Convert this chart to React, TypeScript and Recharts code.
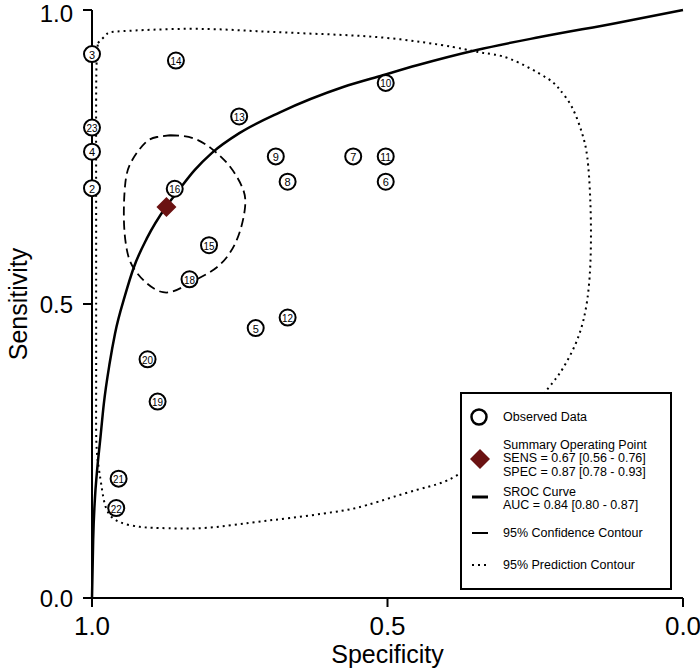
import React from 'react';
import { ComposedChart, XAxis, YAxis, Line, Scatter, Label } from 'recharts';

const FONT = '"Liberation Sans", Arial, sans-serif';

// Observed studies
const studyIds = [2, 3, 4, 5, 6, 7, 8, 9, 10, 11, 12, 13, 14, 15, 16, 18, 19, 20, 21, 22, 23];
const studySpec = [1.0, 1.0, 1.0, 0.723, 0.503, 0.558, 0.669, 0.689, 0.503, 0.503, 0.669, 0.751, 0.858, 0.802, 0.86, 0.835, 0.889, 0.906, 0.955, 0.959, 1.0];
const studySens = [0.697, 0.925, 0.759, 0.459, 0.708, 0.751, 0.708, 0.751, 0.876, 0.751, 0.477, 0.819, 0.914, 0.6, 0.696, 0.542, 0.334, 0.406, 0.203, 0.153, 0.8];

// Summary operating point
const summarySpec = [0.874];
const summarySens = [0.665];

// SROC curve
const srocSpec = [1.0, 0.998, 0.995, 0.992, 0.986, 0.98, 0.97, 0.961, 0.944, 0.929, 0.907, 0.875, 0.856, 0.826, 0.797, 0.75, 0.682, 0.575, 0.508, 0.45, 0.349, 0.242, 0.112, 0.0];
const srocSens = [0.0, 0.1, 0.17, 0.21, 0.27, 0.33, 0.4, 0.45, 0.515, 0.563, 0.612, 0.665, 0.69, 0.728, 0.757, 0.791, 0.826, 0.869, 0.889, 0.906, 0.932, 0.954, 0.978, 1.0];

// 95% confidence contour
const confSpec = [0.868, 0.829, 0.795, 0.766, 0.746, 0.741, 0.755, 0.788, 0.834, 0.88, 0.924, 0.941, 0.946, 0.944, 0.934, 0.91, 0.89, 0.868];
const confSens = [0.787, 0.782, 0.762, 0.733, 0.699, 0.665, 0.609, 0.563, 0.536, 0.52, 0.553, 0.592, 0.643, 0.702, 0.741, 0.774, 0.784, 0.787];

// 95% prediction contour
const predSpec = [0.99, 0.975, 0.948, 0.834, 0.721, 0.609, 0.496, 0.389, 0.338, 0.293, 0.23, 0.208, 0.188, 0.171, 0.162, 0.157, 0.156, 0.162, 0.179, 0.203, 0.22, 0.259, 0.31, 0.382, 0.45, 0.535, 0.592, 0.665, 0.733, 0.812, 0.885, 0.919, 0.953, 0.973, 0.981, 0.986, 0.992, 0.993, 0.993, 0.993, 0.993, 0.992, 0.99];
const predSens = [0.944, 0.959, 0.964, 0.968, 0.964, 0.959, 0.952, 0.937, 0.927, 0.917, 0.884, 0.864, 0.835, 0.791, 0.75, 0.68, 0.592, 0.507, 0.439, 0.391, 0.367, 0.32, 0.269, 0.209, 0.184, 0.158, 0.146, 0.136, 0.128, 0.119, 0.119, 0.121, 0.129, 0.146, 0.172, 0.204, 0.252, 0.337, 0.507, 0.677, 0.847, 0.915, 0.944];

const xTicks = [1.0, 0.5, 0.0];
const yTicks = [0.0, 0.5, 1.0];

const studies = studyIds.map((id, i) => ({ id, spec: studySpec[i], sens: studySens[i] }));
const summary = summarySpec.map((s, i) => ({ spec: s, sens: summarySens[i] }));
const sroc = srocSpec.map((s, i) => ({ spec: s, sens: srocSens[i] }));
const conf = confSpec.map((s, i) => ({ spec: s, sens: confSens[i] }));
const pred = predSpec.map((s, i) => ({ spec: s, sens: predSens[i] }));

const StudyShape = (props: any) => {
  const { cx, cy, payload } = props;
  const label = String(payload.id);
  const two = label.length > 1;
  return (
    <g>
      <circle cx={cx} cy={cy} r={8} fill="#fff" stroke="#000" strokeWidth={2} />
      <text
        x={cx}
        y={cy + 0.5}
        textAnchor="middle"
        dominantBaseline="central"
        fontSize={11}
        fontFamily={FONT}
        fill="#000"
        {...(two ? { textLength: 11, lengthAdjust: 'spacingAndGlyphs' } : {})}
      >
        {label}
      </text>
    </g>
  );
};

const DiamondShape = (props: any) => {
  const { cx, cy } = props;
  const h = 10;
  return <polygon points={`${cx},${cy - h} ${cx + h},${cy} ${cx},${cy + h} ${cx - h},${cy}`} fill="#6b1212" />;
};

const LegendBox = () => {
  const t = { fontSize: 12.5, fontFamily: FONT, fill: '#000' } as const;
  return (
    <svg width={212} height={198} style={{ position: 'absolute', left: 460, top: 392 }}>
      <rect x={1} y={1} width={210} height={196} fill="#fff" stroke="#000" strokeWidth={2} />
      <circle cx={19} cy={25} r={7.5} fill="#fff" stroke="#000" strokeWidth={2.5} />
      <text x={43} y={25} dominantBaseline="central" {...t}>Observed Data</text>
      <polygon points="20,57 30,67 20,77 10,67" fill="#6b1212" />
      <text x={43} y={52.5} dominantBaseline="central" {...t}>Summary Operating Point</text>
      <text x={43} y={66} dominantBaseline="central" {...t}>SENS = 0.67 [0.56 - 0.76]</text>
      <text x={43} y={79.5} dominantBaseline="central" {...t}>SPEC = 0.87 [0.78 - 0.93]</text>
      <line x1={12} x2={28} y1={105} y2={105} stroke="#000" strokeWidth={3} />
      <text x={43} y={99.5} dominantBaseline="central" {...t}>SROC Curve</text>
      <text x={43} y={113} dominantBaseline="central" {...t}>AUC = 0.84 [0.80 - 0.87]</text>
      <line x1={12} x2={28} y1={141} y2={141} stroke="#000" strokeWidth={2} />
      <text x={43} y={141} dominantBaseline="central" {...t}>95% Confidence Contour</text>
      <line x1={12} x2={30} y1={173} y2={173} stroke="#000" strokeWidth={2} strokeDasharray="2 4" />
      <text x={43} y={173} dominantBaseline="central" {...t}>95% Prediction Contour</text>
    </svg>
  );
};

export default function App() {
  return (
    <div style={{ position: 'absolute', left: 0, top: 0, width: 700, height: 670, background: '#fff' }}>
      <ComposedChart width={700} height={670} margin={{ top: 10, right: 17, bottom: 0, left: 0 }}>
        <XAxis
          type="number"
          dataKey="spec"
          domain={[0, 1]}
          reversed
          ticks={xTicks}
          tickFormatter={(v: number) => v.toFixed(1)}
          height={72}
          tickSize={9}
          tickMargin={10}
          axisLine={{ stroke: '#000', strokeWidth: 2 }}
          tickLine={{ stroke: '#000', strokeWidth: 2 }}
          tick={{ fill: '#000', fontSize: 26, fontFamily: FONT }}
        >
          <Label value="Specificity" position="insideBottom" offset={7} style={{ fill: '#000', fontSize: 25, fontFamily: FONT }} />
        </XAxis>
        <YAxis
          type="number"
          domain={[0, 1]}
          ticks={yTicks}
          tickFormatter={(v: number) => v.toFixed(1)}
          width={92}
          tickSize={9}
          tickMargin={10}
          axisLine={{ stroke: '#000', strokeWidth: 2 }}
          tickLine={{ stroke: '#000', strokeWidth: 2 }}
          tick={{ fill: '#000', fontSize: 24, fontFamily: FONT }}
        >
          <Label
            content={() => (
              <text x={18} y={304} transform="rotate(-90 18 304)" textAnchor="middle" dominantBaseline="central" fill="#000" fontSize={25} fontFamily={FONT}>
                Sensitivity
              </text>
            )}
          />
        </YAxis>
        <Line data={pred} dataKey="sens" type="natural" stroke="#000" strokeWidth={2} strokeDasharray="2 4" dot={false} activeDot={false} isAnimationActive={false} />
        <Line data={conf} dataKey="sens" type="natural" stroke="#000" strokeWidth={1.8} strokeDasharray="9 5" dot={false} activeDot={false} isAnimationActive={false} />
        <Line data={sroc} dataKey="sens" type="monotone" stroke="#000" strokeWidth={2.5} dot={false} activeDot={false} isAnimationActive={false} />
        <Scatter data={studies} dataKey="sens" shape={StudyShape} isAnimationActive={false} />
        <Scatter data={summary} dataKey="sens" shape={DiamondShape} isAnimationActive={false} />
      </ComposedChart>
      <LegendBox />
    </div>
  );
}
